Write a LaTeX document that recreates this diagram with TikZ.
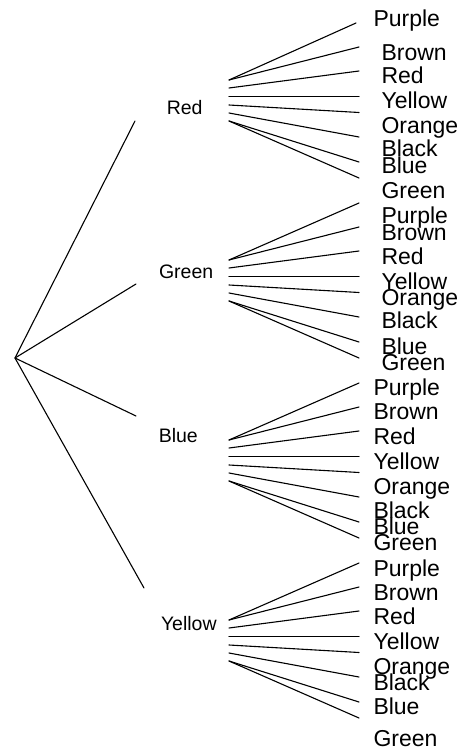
\documentclass[tikz,border=0pt]{standalone}
\usepackage{fontspec}
\setmainfont{Liberation Sans}
\tikzset{
  edge/.style={line width=1.1pt, black, line cap=round},
  midlabel/.style={anchor=base west, inner sep=0pt, font=\fontsize{19.5}{23}\selectfont},
  leaflabel/.style={anchor=base west, inner sep=0pt, font=\fontsize{23}{27}\selectfont},
}
\begin{document}
\begin{tikzpicture}[x=1pt,y=-1pt]
\useasboundingbox (0,0) rectangle (470,749);
% root and first level
\coordinate (root) at (15,358);
\coordinate (e1) at (135,121);
\coordinate (e2) at (136,284);
\coordinate (e3) at (136,416);
\coordinate (e4) at (144,588);
\foreach \i in {1,...,4} { \draw[edge] (root) -- (e\i); }
\node[midlabel] (m1) at (166.6,115) {Red};
\node[midlabel] (m2) at (158.8,278) {Green};
\node[midlabel] (m3) at (158.6,442) {Blue};
\node[midlabel] (m4) at (160.8,630) {Yellow};
% fans of second level
\foreach \g/\s/\px in {1/80/356,2/260/359,3/440/359,4/620/359} {
  \coordinate (g\g s1) at (229,\s);
  \coordinate (g\g s2) at (229,\s);
  \coordinate (g\g s3) at (229,\s+8);
  \coordinate (g\g s4) at (229,\s+16.5);
  \coordinate (g\g s5) at (229,\s+25);
  \coordinate (g\g s6) at (229,\s+33);
  \coordinate (g\g s7) at (229,\s+41);
  \coordinate (g\g s8) at (229,\s+41);
  \coordinate (g\g e1) at (\px,\s-57);
  \coordinate (g\g e2) at (359,\s-33);
  \coordinate (g\g e3) at (359,\s-9);
  \coordinate (g\g e4) at (359,\s+16.5);
  \coordinate (g\g e5) at (359,\s+32.5);
  \coordinate (g\g e6) at (359,\s+57);
  \coordinate (g\g e7) at (359,\s+82);
  \coordinate (g\g e8) at (359,\s+98);
  \foreach \k in {1,...,8} { \draw[edge] (g\g s\k) -- (g\g e\k); }
}
% leaf labels, group Red
\node[leaflabel] (g1l1) at (373.3,27) {Purple};
\node[leaflabel] (g1l2) at (381.3,61) {Brown};
\node[leaflabel] (g1l3) at (381.3,84) {Red};
\node[leaflabel] (g1l4) at (381.3,109) {Yellow};
\node[leaflabel] (g1l5) at (381.3,133) {Orange};
\node[leaflabel] (g1l6) at (381.3,157) {Black};
\node[leaflabel] (g1l7) at (381.3,173) {Blue};
\node[leaflabel] (g1l8) at (381.3,198) {Green};
% group Green
\node[leaflabel] (g2l1) at (381.3,223) {Purple};
\node[leaflabel] (g2l2) at (381.3,240) {Brown};
\node[leaflabel] (g2l3) at (381.3,264) {Red};
\node[leaflabel] (g2l4) at (381.3,289) {Yellow};
\node[leaflabel] (g2l5) at (381.3,305) {Orange};
\node[leaflabel] (g2l6) at (381.3,328) {Black};
\node[leaflabel] (g2l7) at (381.3,354) {Blue};
\node[leaflabel] (g2l8) at (381.3,370) {Green};
% group Blue
\node[leaflabel] (g3l1) at (373.3,395) {Purple};
\node[leaflabel] (g3l2) at (373.3,419) {Brown};
\node[leaflabel] (g3l3) at (373.3,444) {Red};
\node[leaflabel] (g3l4) at (373.3,469) {Yellow};
\node[leaflabel] (g3l5) at (373.3,494) {Orange};
\node[leaflabel] (g3l6) at (373.3,518) {Black};
\node[leaflabel] (g3l7) at (373.3,534) {Blue};
\node[leaflabel] (g3l8) at (373.3,550) {Green};
% group Yellow
\node[leaflabel] (g4l1) at (373.3,576) {Purple};
\node[leaflabel] (g4l2) at (373.3,600) {Brown};
\node[leaflabel] (g4l3) at (373.3,624) {Red};
\node[leaflabel] (g4l4) at (373.3,649) {Yellow};
\node[leaflabel] (g4l5) at (373.3,674) {Orange};
\node[leaflabel] (g4l6) at (373.3,690) {Black};
\node[leaflabel] (g4l7) at (373.3,714) {Blue};
\node[leaflabel] (g4l8) at (373.3,746) {Green};
\end{tikzpicture}
\end{document}
